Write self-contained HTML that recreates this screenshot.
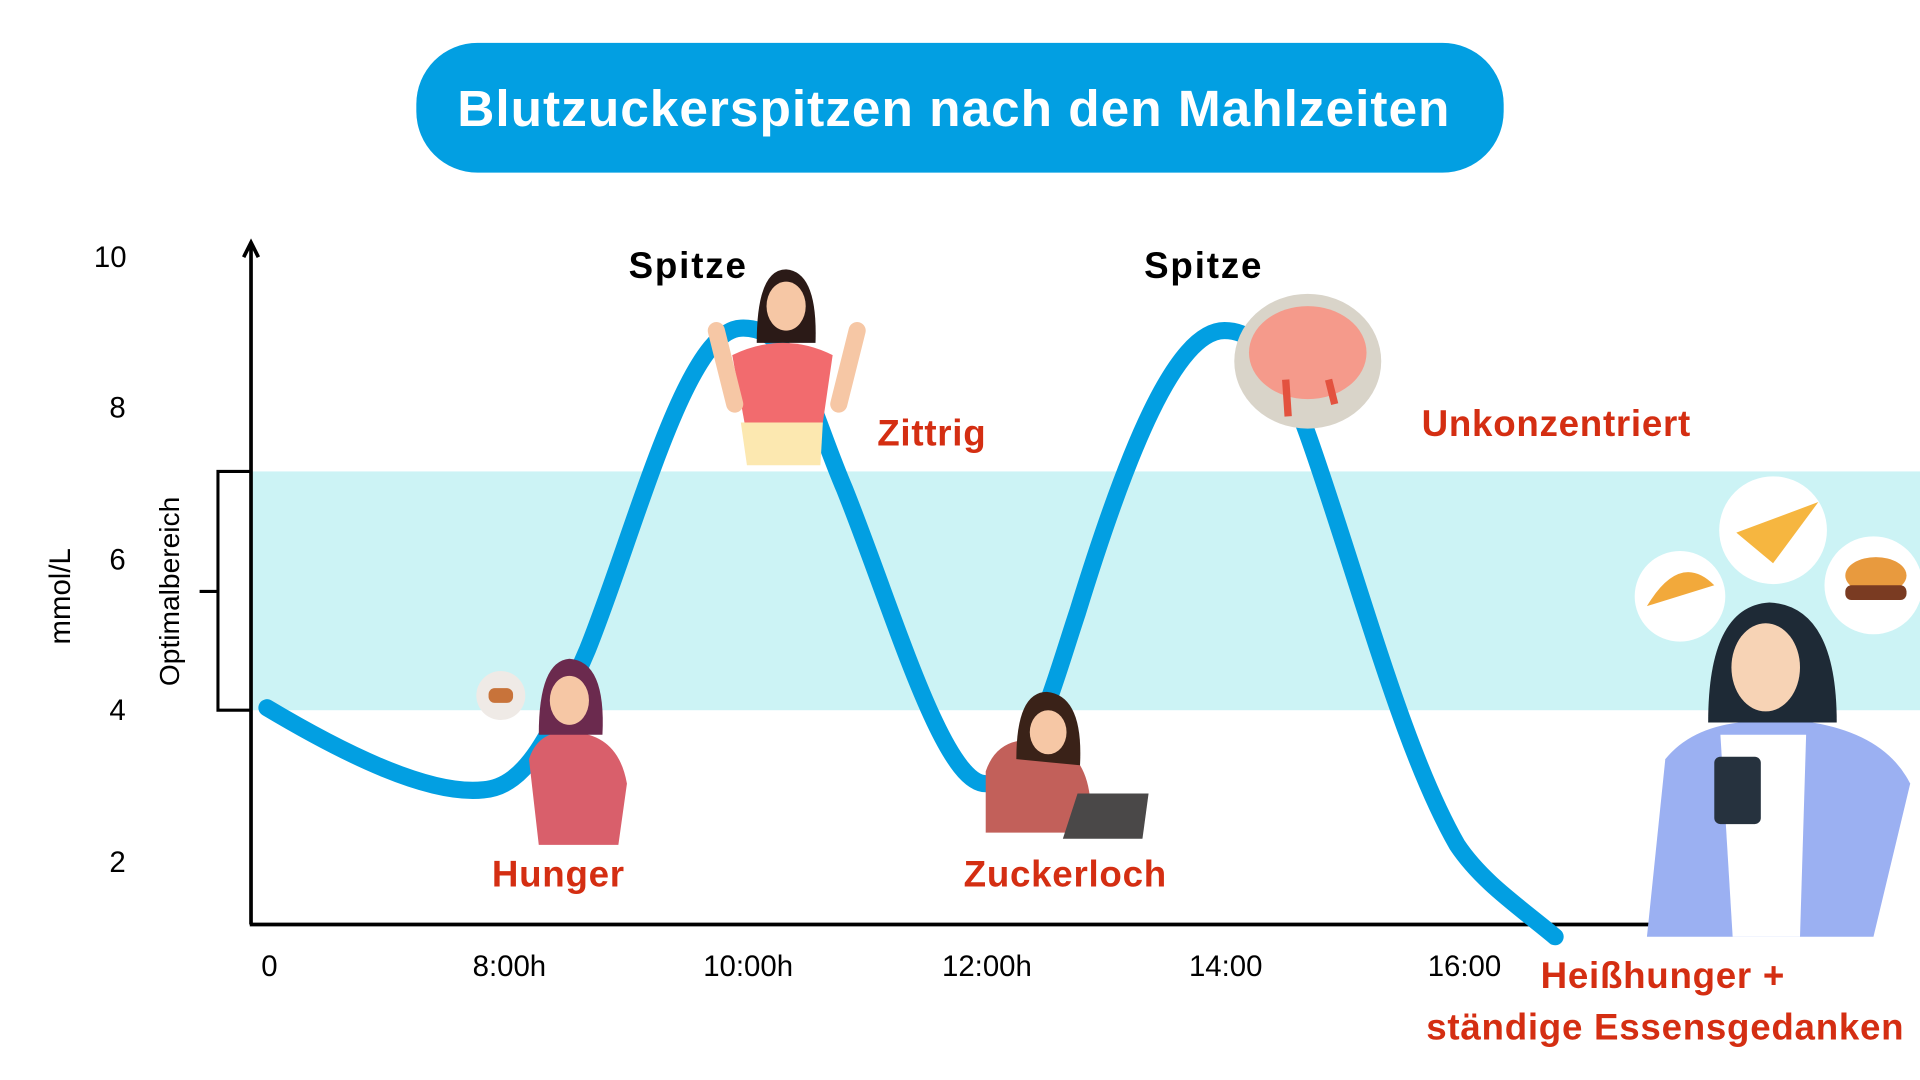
<!DOCTYPE html>
<html><head><meta charset="utf-8"><style>
html,body{margin:0;padding:0;background:#fff;width:1920px;height:1080px;overflow:hidden}
svg{display:block}
text{font-family:"Liberation Sans",sans-serif}
</style></head><body>
<svg width="1920" height="1080" viewBox="0 0 1568 882" preserveAspectRatio="none">
<rect width="1568" height="882" fill="#fff"/>
<rect x="340" y="35" width="888" height="106" rx="50" fill="#029FE2"/>
<text x="779" y="103" text-anchor="middle" font-size="42" font-weight="bold" fill="#fff" letter-spacing="0.8">Blutzuckerspitzen nach den Mahlzeiten</text>
<rect x="206" y="385" width="1362" height="195" fill="#CCF3F5"/>
<path d="M205,755 V200 M199,210 L205,198 L211,210" stroke="#000" stroke-width="3" fill="none"/>
<line x1="204" y1="755" x2="1375" y2="755" stroke="#000" stroke-width="3"/>
<path d="M206,385 H178 V580 H206 M178,483 H163" stroke="#000" stroke-width="2.5" fill="none"/>
<g font-size="24" fill="#000" text-anchor="middle">
<text x="90" y="218">10</text><text x="96" y="341">8</text><text x="96" y="465">6</text><text x="96" y="588">4</text><text x="96" y="712">2</text>
<text x="220" y="797">0</text><text x="416" y="797">8:00h</text><text x="611" y="797">10:00h</text><text x="806" y="797">12:00h</text><text x="1001" y="797">14:00</text><text x="1196" y="797">16:00</text>
</g>
<text transform="translate(57,487) rotate(-90)" text-anchor="middle" font-size="24">mmol/L</text>
<text transform="translate(146,483) rotate(-90)" text-anchor="middle" font-size="23">Optimalbereich</text>
<path d="M218,578 C280,615 350,650 395,645 C430,642 450,600 480,530 C520,430 560,270 605,268 C650,266 660,330 690,400 C730,500 770,640 805,640 C840,640 860,560 880,500 C920,370 960,270 1000,270 C1040,270 1060,330 1080,390 C1120,510 1150,620 1190,690 C1210,720 1240,740 1270,765" stroke="#029FE2" stroke-width="14" fill="none" stroke-linecap="round"/>
<!-- Hunger woman -->
<circle cx="409" cy="568" r="20" fill="#EFEAE6"/><rect x="399" y="562" width="20" height="12" rx="5" fill="#C8733A"/>
<path d="M440,690 L432,620 Q440,595 468,598 Q505,600 512,640 L505,690 Z" fill="#D95F6B"/>
<path d="M440,600 Q440,540 465,538 Q495,540 492,600 Z" fill="#6B2A4E"/>
<ellipse cx="465" cy="572" rx="16" ry="20" fill="#F6C7A5"/>
<!-- Zittrig woman -->
<path d="M618,280 Q618,220 642,220 Q668,222 666,280 Z" fill="#2B1A17"/>
<ellipse cx="642" cy="250" rx="16" ry="20" fill="#F6C7A5"/>
<path d="M598,290 Q640,270 680,290 L672,345 L608,345 Z" fill="#F26B6E"/>
<path d="M605,345 H672 L670,380 H610 Z" fill="#FCE8B0"/>
<path d="M585,270 L600,330 M700,270 L685,330" stroke="#F6C7A5" stroke-width="14" stroke-linecap="round"/>
<!-- Brain -->
<ellipse cx="1068" cy="295" rx="60" ry="55" fill="#D9D4C9"/>
<ellipse cx="1068" cy="288" rx="48" ry="38" fill="#F59A8B"/>
<path d="M1050,310 L1052,340 M1085,310 L1090,330" stroke="#E3523F" stroke-width="6"/>
<!-- Zuckerloch woman -->
<path d="M805,680 L805,630 Q815,600 850,605 Q885,610 890,650 L885,680 Z" fill="#C2605A"/>
<path d="M830,620 Q830,565 855,565 Q885,568 882,625 Z" fill="#3A2218"/>
<ellipse cx="856" cy="598" rx="15" ry="18" fill="#F6C7A5"/>
<path d="M868,685 L880,648 L938,648 L933,685 Z" fill="#4A4848"/>
<!-- food bubbles -->
<circle cx="1372" cy="487" r="37" fill="#fff"/><path d="M1345,495 Q1372,450 1400,478 Z" fill="#F2A93B"/>
<circle cx="1448" cy="433" r="44" fill="#fff"/><path d="M1418,435 L1485,410 L1448,460 Z" fill="#F6B640"/>
<circle cx="1530" cy="478" r="40" fill="#fff"/><ellipse cx="1532" cy="470" rx="25" ry="15" fill="#E89A3E"/><rect x="1507" y="478" width="50" height="12" rx="5" fill="#7A3B22"/>
<!-- right woman -->
<path d="M1345,765 L1360,620 Q1380,595 1420,590 L1480,590 Q1540,600 1560,640 L1530,765 Z" fill="#9BB0F2"/>
<path d="M1405,600 H1475 L1470,765 H1415 Z" fill="#fff"/>
<path d="M1395,590 Q1395,495 1445,492 Q1500,495 1500,590 Z" fill="#1E2A36"/>
<ellipse cx="1442" cy="545" rx="28" ry="36" fill="#F7D3B5"/>
<rect x="1400" y="618" width="38" height="55" rx="5" fill="#26323E"/>
<!-- labels -->
<g font-size="30" font-weight="bold" text-anchor="middle">
<text x="562" y="227" fill="#000" letter-spacing="1.5">Spitze</text><text x="983" y="227" fill="#000" letter-spacing="1.5">Spitze</text>
<g fill="#D42E12" letter-spacing="0.6">
<text x="761" y="364">Zittrig</text><text x="1271" y="356">Unkonzentriert</text>
<text x="456" y="724">Hunger</text><text x="870" y="724">Zuckerloch</text>
<text x="1358" y="807">Heißhunger +</text><text x="1360" y="849">ständige Essensgedanken</text>
</g></g>
</svg>
</body></html>
